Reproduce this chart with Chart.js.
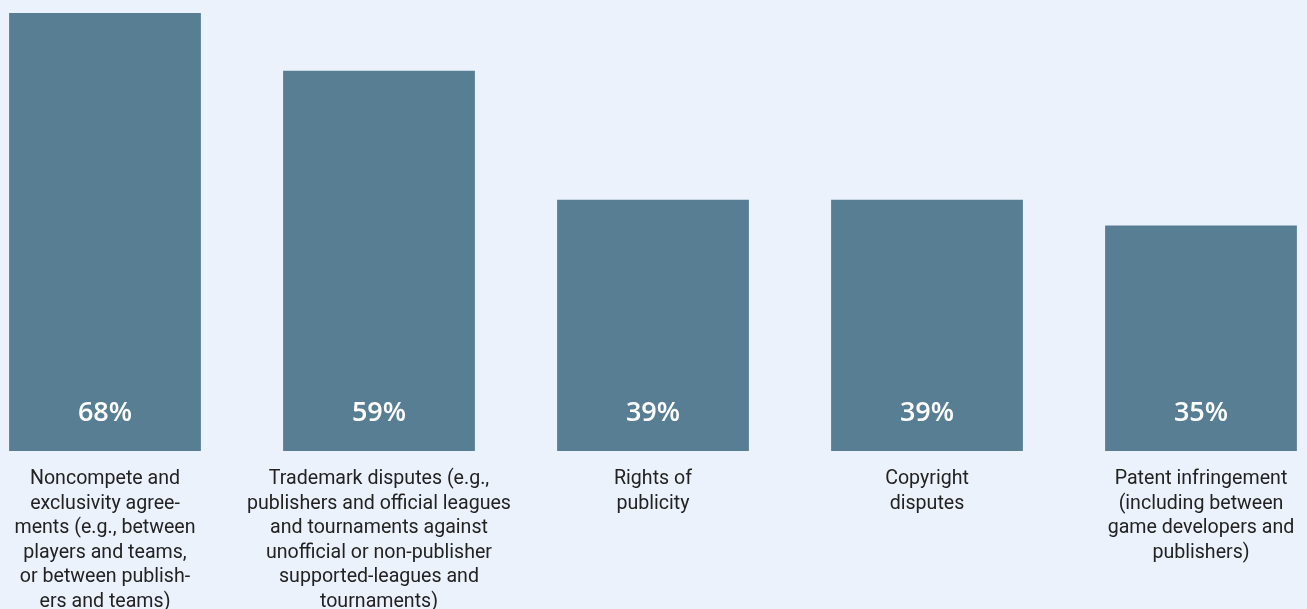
<!DOCTYPE html>
<html>
<head>
<meta charset="utf-8">
<script src="https://cdn.jsdelivr.net/npm/chart.js@4/dist/chart.umd.min.js"></script>
<style>
	html, body { margin: 0; padding: 0; background: #ecf2fc; }
	#wrap { width: 1307px; height: 609px; }
</style>
</head>
<body>
<div id="wrap"><canvas id="graficoDisputas"></canvas></div>
<script>
var categorias = [
	['Noncompete and', 'exclusivity agree-', 'ments (e.g., between', 'players and teams,', 'or between publish-', 'ers and teams)'],
	['Trademark disputes (e.g.,', 'publishers and official leagues', 'and tournaments against', 'unofficial or non-publisher', 'supported-leagues and', 'tournaments)'],
	['Rights of', 'publicity'],
	['Copyright', 'disputes'],
	['Patent infringement', '(including between', 'game developers and', 'publishers)']
];
var percentuais = [68, 59, 39, 39, 35];
var rotulos = ['68%', '59%', '39%', '39%', '35%'];

// rotulo branco dentro da barra, perto da base
var rotuloNaBarra = {
	id: 'rotuloNaBarra',
	afterDatasetsDraw: function(chart) {
		var ctx = chart.ctx;
		var meta = chart.getDatasetMeta(0);
		ctx.save();
		ctx.fillStyle = '#ffffff';
		ctx.font = '600 27px "Open Sans"';
		ctx.textAlign = 'center';
		ctx.textBaseline = 'middle';
		meta.data.forEach(function(bar, i) {
			ctx.fillText(rotulos[i], bar.x, bar.base - 38);
		});
		ctx.restore();
	}
};

var grafico = new Chart(document.getElementById('graficoDisputas').getContext('2d'), {
	type: 'bar',
	data: {
		labels: categorias,
		datasets: [{
			data: percentuais,
			backgroundColor: '#587e94',
			borderWidth: 0,
			categoryPercentage: 1,
			barPercentage: 0.7,
			clip: false
		}]
	},
	options: {
		responsive: true,
		maintainAspectRatio: false,
		animation: false,
		layout: { padding: { left: 105, right: 106, top: 0, bottom: 0 } },
		plugins: {
			legend: { display: false },
			tooltip: { enabled: false }
		},
		scales: {
			x: {
				offset: false,
				grid: { display: false, drawTicks: false },
				border: { display: false },
				ticks: {
					color: '#222222',
					font: { family: 'Roboto', size: 19.6, lineHeight: 1.25 },
					maxRotation: 0,
					minRotation: 0,
					autoSkip: false,
					padding: 16
				},
				afterFit: function(scale) {
					scale.height = 158;
					scale.paddingLeft = 0;
					scale.paddingRight = 0;
				}
			},
			y: {
				display: false,
				min: 0,
				max: 70
			}
		}
	},
	plugins: [rotuloNaBarra]
});
</script>
</body>
</html>
